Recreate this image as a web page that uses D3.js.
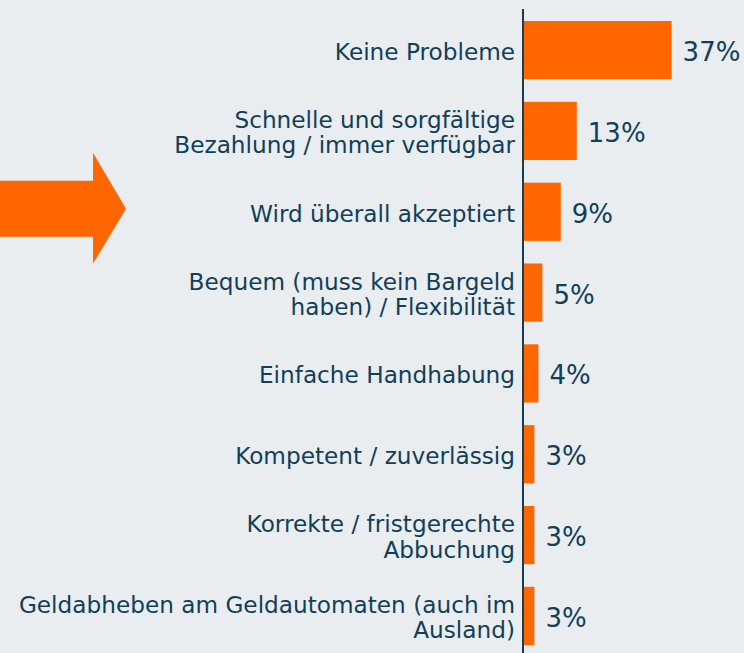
<!DOCTYPE html>
<html>
<head>
<meta charset="utf-8">
<script src="https://cdn.jsdelivr.net/npm/d3@7"></script>
<style>
  html, body { margin: 0; padding: 0; background: #e9edf0; }
  svg { display: block; }
</style>
</head>
<body>
<svg id="chart"></svg>
<script>
// Gründe / Vorteile - Anteil der Nennungen
const categories = [
    ['Keine Probleme'],
    ['Schnelle und sorgfältige', 'Bezahlung / immer verfügbar'],
    ['Wird überall akzeptiert'],
    ['Bequem (muss kein Bargeld', 'haben) / Flexibilität'],
    ['Einfache Handhabung'],
    ['Kompetent / zuverlässig'],
    ['Korrekte / fristgerechte', 'Abbuchung'],
    ['Geldabheben am Geldautomaten (auch im', 'Ausland)']
];
const shares = [36.9, 13.2, 9.2, 4.6, 3.6, 2.6, 2.6, 2.6];
const highlighted = 'Wird überall akzeptiert';

const width = 744;
const height = 653;
const orange = '#ff6600';
const navy = '#123f58';
const font = '"DejaVu Sans", sans-serif';

const svg = d3.select('#chart')
    .attr('width', width)
    .attr('height', height);

const keys = categories.map(c => c.join(' '));

const yScale = d3.scaleBand()
    .domain(keys)
    .range([21, 645])
    .paddingInner(0.28)
    .paddingOuter(0);

const xScale = d3.scaleLinear()
    .domain([0, 37])
    .range([524, 672]);

// bars
svg.append('g')
    .selectAll('rect')
    .data(shares)
    .join('rect')
    .attr('x', xScale(0))
    .attr('y', (d, i) => yScale(keys[i]))
    .attr('width', d => xScale(d) - xScale(0))
    .attr('height', yScale.bandwidth())
    .attr('fill', orange);

// value labels
svg.append('g')
    .selectAll('text')
    .data(shares)
    .join('text')
    .attr('x', d => xScale(d) + 11)
    .attr('y', (d, i) => yScale(keys[i]) + yScale.bandwidth() / 2)
    .attr('dy', '0.42em')
    .attr('font-family', font)
    .attr('font-size', 26)
    .attr('fill', navy)
    .text(d => d3.format('.0f')(d) + '%');

// category axis
const yAxis = d3.axisLeft(yScale).tickSize(0).tickPadding(8);
const axisG = svg.append('g')
    .attr('transform', `translate(${xScale(0) - 1}, 0)`)
    .call(yAxis);
axisG.select('.domain').remove();
const lineH = 25.5;
axisG.selectAll('.tick text')
    .attr('font-family', font)
    .attr('font-size', 23.2)
    .attr('fill', navy)
    .attr('dy', null)
    .each(function (d, i) {
        const lines = categories[i];
        const t = d3.select(this).text(null);
        const first = -(lines.length - 1) * lineH / 2;
        lines.forEach((l, j) => {
            t.append('tspan')
                .attr('x', -8)
                .attr('y', first + j * lineH)
                .attr('dy', '0.42em')
                .text(l);
        });
    });

// vertical axis line
svg.append('line')
    .attr('x1', xScale(0) - 1)
    .attr('x2', xScale(0) - 1)
    .attr('y1', 9)
    .attr('y2', height)
    .attr('stroke', '#1b3d52')
    .attr('stroke-width', 2);

// arrow pointing at the highlighted category
const cy = yScale(highlighted) + yScale.bandwidth() / 2 - 3;
svg.append('polygon')
    .attr('points', [
        [0, cy - 28], [93, cy - 28], [93, cy - 56], [126, cy],
        [93, cy + 55], [93, cy + 28], [0, cy + 28]
    ].map(p => p.join(',')).join(' '))
    .attr('fill', orange);
</script>
</body>
</html>
